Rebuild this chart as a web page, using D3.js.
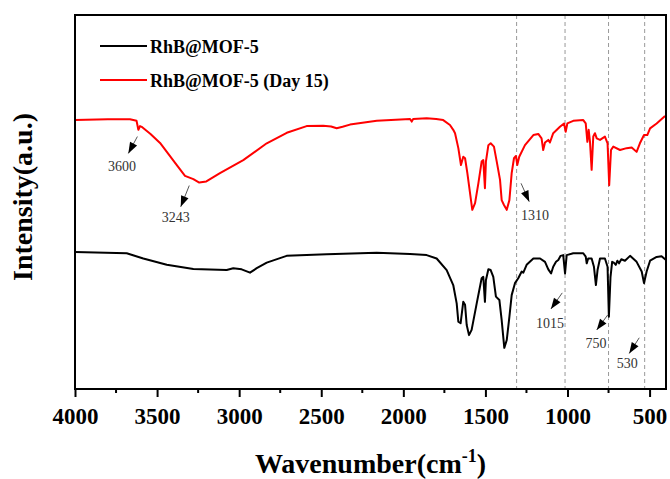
<!DOCTYPE html>
<html lang="en">
<head>
  <meta charset="UTF-8">
  <title>FTIR RhB@MOF-5</title>
  <script src="https://cdnjs.cloudflare.com/ajax/libs/d3/7.8.5/d3.min.js"></script>
  <style>
    body { margin: 0; background: #fff; }
    text { font-family: "Liberation Serif", "Times New Roman", serif; }
    .tick-label { font-size: 23px; font-weight: bold; }
    .axis-title { font-size: 28px; font-weight: bold; }
    .legend-text { font-size: 18px; font-weight: bold; }
    .peak-text { font-size: 14px; fill: #333; }
  </style>
</head>
<body>
<div id="wrapper"></div>
<script>
// wavenumber (cm-1) and relative intensity (a.u., offset stacked)
const fresh = [
  [4000,36.6],[3685,36.3],[3584,34.9],[3441,33.2],[3279,32.1],[3076,31.8],[3036,32.3],[2985,32.0],
  [2934,31.1],[2893,32.3],[2832,33.8],[2711,35.6],[2467,36.0],[2162,36.4],[1959,36.1],[1858,35.8],
  [1797,34.9],[1736,31.8],[1696,27.8],[1675,22.9],[1665,18.0],[1651,17.6],[1635,23.3],[1624,22.5],
  [1614,17.1],[1600,14.4],[1584,15.8],[1553,22.9],[1523,29.6],[1513,30.0],[1503,23.3],[1497,29.1],
  [1482,32.0],[1468,31.8],[1452,30.0],[1436,24.7],[1415,23.8],[1401,18.4],[1385,11.0],[1370,13.1],
  [1354,19.3],[1340,25.1],[1320,28.3],[1300,29.6],[1279,31.4],[1269,31.1],[1249,33.2],[1208,34.9],
  [1167,34.9],[1137,34.0],[1117,32.0],[1100,30.9],[1087,32.7],[1070,34.0],[1056,34.5],[1042,35.6],
  [1026,35.8],[1015,30.9],[1005,35.8],[965,36.3],[904,36.3],[889,35.4],[883,33.6],[874,34.9],
  [853,34.9],[839,32.7],[827,27.8],[817,31.8],[802,34.9],[772,34.9],[756,32.7],[748,19.3],
  [738,30.0],[728,34.0],[718,33.8],[706,33.2],[696,34.3],[686,33.6],[672,34.7],[650,34.3],
  [619,35.6],[579,34.0],[548,31.4],[534,28.3],[518,31.4],[497,34.3],[457,35.3],[427,35.5],[400,34.5]
];

const day15 = [
  [4000,71.9],[3800,72.1],[3665,72.1],[3625,71.7],[3614,69.3],[3604,70.3],[3594,70.1],[3540,68.2],
  [3482,65.8],[3381,59.9],[3330,57.0],[3279,56.1],[3243,55.2],[3200,55.5],[3117,57.7],[2975,61.2],
  [2832,65.7],[2710,68.5],[2589,70.3],[2488,70.4],[2440,70.2],[2406,69.7],[2370,70.1],[2325,70.7],
  [2162,71.7],[1959,72.2],[1949,71.5],[1940,72.2],[1858,72.4],[1800,72.2],[1757,71.9],[1716,70.6],
  [1696,69.3],[1685,68.4],[1665,64.4],[1649,59.9],[1635,62.1],[1624,61.7],[1610,57.7],[1580,47.9],
  [1563,49.7],[1543,55.0],[1523,60.8],[1513,61.2],[1503,53.7],[1497,60.8],[1482,65.2],[1468,65.7],
  [1448,64.8],[1431,60.8],[1411,55.9],[1401,50.5],[1387,49.2],[1370,47.9],[1354,50.5],[1340,57.7],
  [1326,61.7],[1314,62.3],[1306,59.9],[1294,62.1],[1259,65.2],[1208,67.9],[1178,68.2],[1158,67.0],
  [1148,63.9],[1137,65.9],[1117,66.6],[1107,65.9],[1087,68.4],[1046,70.1],[1021,71.0],[1011,68.8],
  [1001,71.0],[965,71.7],[904,71.9],[889,71.0],[879,66.1],[871,69.3],[863,66.1],[853,58.6],
  [843,67.5],[833,68.4],[822,67.0],[802,66.6],[772,67.5],[756,65.7],[746,54.5],[735,63.9],
  [721,64.8],[680,63.9],[640,64.4],[609,64.6],[579,63.4],[559,65.7],[534,67.9],[514,67.9],
  [497,69.7],[457,71.0],[406,73.0]
];

const seriesNames = ["RhB@MOF-5", "RhB@MOF-5 (Day 15)"];
const seriesColors = ["#000000", "#ff0000"];

const guideLines = [1310, 1015, 750, 530];
const xTicks = [4000, 3500, 3000, 2500, 2000, 1500, 1000, 500];

// peak labels: label, arrow start [cm-1, a.u.], arrow tip, label anchor
const peaks = [
  {label: "3600", from: [3620, 67.5], to: [3675, 63.0], at: [3714, 58.3]},
  {label: "3243", from: [3304, 54.4], to: [3356, 48.7], at: [3387, 44.6]},
  {label: "1310", from: [1283, 55.0], to: [1233, 50.1], at: [1198, 45.2]},
  {label: "1015", from: [1032, 25.7], to: [1101, 21.4], at: [1107, 16.4]},
  {label: "750",  from: [755, 19.8],  to: [822, 15.8],  at: [826, 10.9]},
  {label: "530",  from: [563, 13.7],  to: [624, 9.5],   at: [636, 5.5]}
];

const width = 670, height = 479;
const margin = {top: 15, right: 4, bottom: 90, left: 75};

const svg = d3.select("#wrapper").append("svg")
  .attr("width", width)
  .attr("height", height);

const x = d3.scaleLinear().domain([4000, 400]).range([margin.left, width - margin.right]);
const y = d3.scaleLinear().domain([0, 100]).range([height - margin.bottom, margin.top]);

const plotTop = margin.top, plotBottom = height - margin.bottom;

// dashed guide lines
svg.append("g").selectAll("line")
  .data(guideLines)
  .enter().append("line")
  .attr("x1", d => x(d)).attr("x2", d => x(d))
  .attr("y1", plotTop).attr("y2", plotBottom)
  .attr("stroke", "#999")
  .attr("stroke-width", 1)
  .attr("stroke-dasharray", "4,3");

// spectra
const line = d3.line().x(d => x(d[0])).y(d => y(d[1]));
[fresh, day15].forEach((s, i) => {
  svg.append("path")
    .datum(s)
    .attr("d", line)
    .attr("fill", "none")
    .attr("stroke", seriesColors[i])
    .attr("stroke-width", 2)
    .attr("stroke-linejoin", "round");
});

// frame
svg.append("rect")
  .attr("x", x(4000)).attr("y", plotTop)
  .attr("width", x(400) - x(4000))
  .attr("height", plotBottom - plotTop)
  .attr("fill", "none")
  .attr("stroke", "#000")
  .attr("stroke-width", 2);

// bottom axis
const xAxis = svg.append("g")
  .attr("transform", `translate(0,${plotBottom})`)
  .call(d3.axisBottom(x).tickValues(xTicks).tickFormat(d3.format("d"))
    .tickSize(8).tickSizeOuter(0).tickPadding(7));
xAxis.select(".domain").remove();
xAxis.selectAll(".tick line").attr("stroke-width", 2);
xAxis.selectAll(".tick text").attr("class", "tick-label").attr("fill", "#000").attr("dy", "0.85em");

svg.append("g").selectAll("line")
  .data(d3.range(3750, 400, -500))
  .enter().append("line")
  .attr("x1", d => x(d)).attr("x2", d => x(d))
  .attr("y1", plotBottom).attr("y2", plotBottom + 4)
  .attr("stroke", "#000").attr("stroke-width", 2);

// axis titles
const xt = svg.append("text")
  .attr("class", "axis-title")
  .attr("x", (x(4000) + x(400)) / 2)
  .attr("y", 473)
  .attr("text-anchor", "middle");
xt.append("tspan").text("Wavenumber(cm");
xt.append("tspan").attr("dy", -11).style("font-size", "18px").text("-1");
xt.append("tspan").attr("dy", 11).text(")");

svg.append("text")
  .attr("class", "axis-title")
  .attr("transform", `translate(32,${(plotTop + plotBottom) / 2 - 5}) rotate(-90)`)
  .attr("text-anchor", "middle")
  .text("Intensity(a.u.)");

// legend
const legend = svg.append("g").selectAll("g")
  .data(seriesNames)
  .enter().append("g")
  .attr("transform", (d, i) => `translate(100,${46 + i * 34})`);
legend.append("line")
  .attr("x1", 0).attr("x2", 47)
  .attr("stroke", (d, i) => seriesColors[i])
  .attr("stroke-width", 2);
legend.append("text")
  .attr("class", "legend-text")
  .attr("x", 50).attr("y", 7)
  .text(d => d);

// peak annotations
const ann = svg.append("g").selectAll("g").data(peaks).enter().append("g");
ann.append("line")
  .attr("x1", d => x(d.from[0])).attr("y1", d => y(d.from[1]))
  .attr("x2", d => x(d.to[0])).attr("y2", d => y(d.to[1]))
  .attr("stroke", "#555").attr("stroke-width", 1);
ann.append("path")
  .attr("d", d => {
    const tx = x(d.to[0]), ty = y(d.to[1]);
    const a = Math.atan2(ty - y(d.from[1]), tx - x(d.from[0]));
    const L = 11, W = 4;
    const bx = tx - L * Math.cos(a), by = ty - L * Math.sin(a);
    const px = -Math.sin(a) * W, py = Math.cos(a) * W;
    return `M${tx},${ty}L${bx + px},${by + py}L${bx - px},${by - py}Z`;
  })
  .attr("fill", "#000");
ann.append("text")
  .attr("class", "peak-text")
  .attr("x", d => x(d.at[0])).attr("y", d => y(d.at[1]))
  .attr("text-anchor", "middle")
  .text(d => d.label);
</script>
</body>
</html>
